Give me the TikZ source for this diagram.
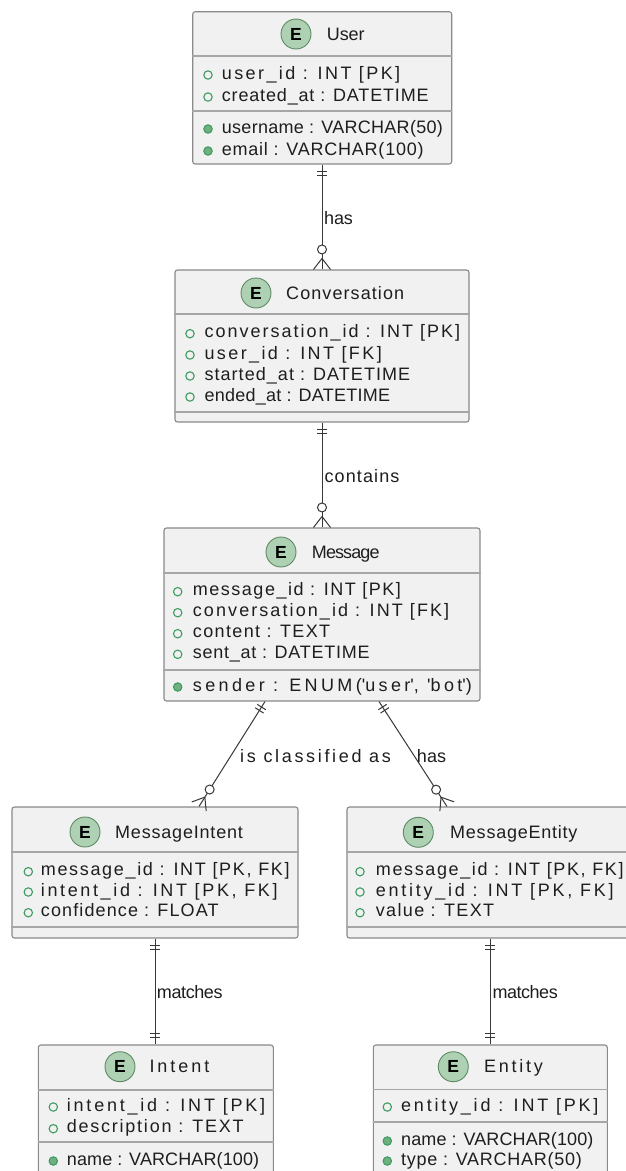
\documentclass[tikz,border=0pt]{standalone}
\usepackage{fontspec}
\usepackage{graphicx}
\setmainfont{Liberation Sans}
\usetikzlibrary{calc,fit}
\definecolor{boxfill}{HTML}{F1F1F1}
\definecolor{boxline}{HTML}{8A8A8A}
\definecolor{sepline}{HTML}{A6A6A6}
\definecolor{spotfill}{HTML}{ADD1B2}
\definecolor{spotline}{HTML}{5E8A66}
\definecolor{bulline}{HTML}{3E9B62}
\definecolor{bulfill}{HTML}{6FB07E}
\definecolor{relline}{HTML}{383838}
\definecolor{txt}{HTML}{1E1E1E}

\newsavebox\trkbox
\newdimen\trkA
\newdimen\trkB
\newcommand\trk[2]{%
  \sbox\trkbox{#2}\trkA=\wd\trkbox
  \sbox\trkbox{\addfontfeature{LetterSpace=10}#2}\trkB=\wd\trkbox
  \pgfmathsetmacro\trkls{round(100*(10*(#1-\trkA)/(\trkB-\trkA)))/100}%
  \edef\trktmp{\noexpand\addfontfeature{LetterSpace=\trkls}}%
  {\trktmp #2}}

\tikzset{
  ebox/.style={draw=boxline, fill=boxfill, line width=1.1pt, rounded corners=2.5pt, inner sep=0pt},
  sepl/.style={draw=sepline, line width=1.6pt},
  spot/.style={circle, draw=spotline, fill=spotfill, line width=0.9pt, minimum size=30pt, inner sep=0pt,
    font=\bfseries\fontsize{17.5}{17.5}\selectfont, text=black},
  ttl/.style={anchor=base west, inner sep=0pt, font=\fontsize{18}{21}\selectfont, text=txt},
  attr/.style={anchor=base west, inner sep=0pt, font=\fontsize{18}{21}\selectfont, text=txt},
  lbl/.style={anchor=base west, inner sep=0pt, font=\fontsize{18}{21}\selectfont, text=txt},
  bulo/.style={circle, draw=bulline, fill=boxfill, line width=1.1pt, minimum size=8.4pt, inner sep=0pt},
  bulf/.style={circle, draw=bulline, fill=bulfill, line width=1.1pt, minimum size=8.4pt, inner sep=0pt},
  rel/.style={draw=relline, line width=1pt},
}

\newcommand\erow[7]{%
  \node[#2] (#1b) at (#3,#5+1) {};
  \node[attr] (#1) at (#4,#5+5) {\trk{#6}{#7}};}

\newcommand\relbars[2]{%
  \draw[rel] ($(#1)!6.5pt!(#2)!5pt!90:(#2)$) -- ($(#1)!6.5pt!(#2)!5pt!-90:(#2)$);
  \draw[rel] ($(#1)!10.5pt!(#2)!5pt!90:(#2)$) -- ($(#1)!10.5pt!(#2)!5pt!-90:(#2)$);}

\newcommand\relmany[2]{%
  \draw[rel] ($(#2)!11pt!(#1)$) -- ($(#2)!8.5pt!90:(#1)$);
  \draw[rel] ($(#2)!11pt!(#1)$) -- ($(#2)!8.5pt!-90:(#1)$);
  \draw[rel, fill=white] ($(#2)!20pt!(#1)$) circle[radius=4.5pt];}

\begin{document}
\begin{tikzpicture}[x=1pt, y=-1pt]
\useasboundingbox (0,0) rectangle (626,1171);
\fill[white] (0,0) rectangle (626,1171);
\clip (0,0) rectangle (626,1171);

% ---------- boxes ----------
\node[ebox, fit={(192.7,11.7) (451.7,164)}] (user) {};
\node[ebox, fit={(175,270) (469,422)}] (conv) {};
\node[ebox, fit={(164,528) (480,701)}] (msg) {};
\node[ebox, fit={(12,807) (298,938)}] (mint) {};
\node[ebox, fit={(347,807) (633,938)}] (ment) {};
\node[ebox, fit={(38.3,1045) (273.3,1190)}] (intent) {};
\node[ebox, fit={(373.3,1045) (607.3,1190)}] (entity) {};

% separators
\draw[sepl] (user.west |- 0,56) -- (user.east |- 0,56);
\draw[sepl] (user.west |- 0,111) -- (user.east |- 0,111);
\draw[sepl] (conv.west |- 0,314) -- (conv.east |- 0,314);
\draw[sepl] (conv.west |- 0,412) -- (conv.east |- 0,412);
\draw[sepl] (msg.west |- 0,573) -- (msg.east |- 0,573);
\draw[sepl] (msg.west |- 0,670) -- (msg.east |- 0,670);
\draw[sepl] (mint.west |- 0,852) -- (mint.east |- 0,852);
\draw[sepl] (mint.west |- 0,927) -- (mint.east |- 0,927);
\draw[sepl] (ment.west |- 0,852) -- (ment.east |- 0,852);
\draw[sepl] (ment.west |- 0,927) -- (ment.east |- 0,927);
\draw[sepl] (intent.west |- 0,1090) -- (intent.east |- 0,1090);
\draw[sepl] (intent.west |- 0,1141.7) -- (intent.east |- 0,1141.7);
\draw[sepl] (entity.west |- 0,1089.3) -- (entity.east |- 0,1089.3);
\draw[sepl] (entity.west |- 0,1121.7) -- (entity.east |- 0,1121.7);

% ---------- headers ----------
\node[spot] (userE) at (296,34) {E};
\node[ttl] (userT) at (326.7,40.5) {\trk{37.7}{User}};
\node[spot] (convE) at (256,293) {E};
\node[ttl] (convT) at (286,299.7) {\trk{118}{Conversation}};
\node[spot] (msgE) at (281,552) {E};
\node[ttl] (msgT) at (311.7,558.2) {\trk{67.7}{Message}};
\node[spot] (mintE) at (85,832) {E};
\node[ttl] (mintT) at (115,838.2) {\trk{127.7}{MessageIntent}};
\node[spot] (mentE) at (418.3,832.3) {E};
\node[ttl] (mentT) at (450,838.5) {\trk{127.3}{MessageEntity}};
\node[spot] (intentE) at (120,1066.7) {E};
\node[ttl] (intentT) at (149.3,1072.9) {\trk{60}{Intent}};
\node[spot] (entityE) at (453.3,1066.7) {E};
\node[ttl] (entityT) at (484,1072.9) {\trk{58.7}{Entity}};

% ---------- attributes ----------
\erow{u1}{bulo}{208}{221.7}{74}{178.3}{user\_id : INT [PK]}
\erow{u2}{bulo}{208}{221.7}{96}{206.7}{created\_at : DATETIME}
\erow{u3}{bulf}{208}{221.7}{128}{221}{username : VARCHAR(50)}
\erow{u4}{bulf}{208}{221.7}{150}{201.7}{email : VARCHAR(100)}

\erow{c1}{bulo}{190}{204.3}{332.7}{255.7}{conversation\_id : INT [PK]}
\erow{c2}{bulo}{190}{204.3}{354}{177.3}{user\_id : INT [FK]}
\erow{c3}{bulo}{190}{204.3}{375}{205.7}{started\_at : DATETIME}
\erow{c4}{bulo}{190}{204.3}{396}{185.7}{ended\_at : DATETIME}

\erow{m1}{bulo}{177.7}{192.7}{590.7}{208}{message\_id : INT [PK]}
\erow{m2}{bulo}{177.7}{192.7}{611.7}{256.3}{conversation\_id : INT [FK]}
\erow{m3}{bulo}{177.7}{192.7}{632.7}{137.3}{content : TEXT}
\erow{m4}{bulo}{177.7}{192.7}{653.3}{176.7}{sent\_at : DATETIME}
\erow{m5}{bulf}{177.7}{192.7}{686}{279}{sender : ENUM(\textquotesingle user\textquotesingle, \textquotesingle bot\textquotesingle)}

\erow{i1}{bulo}{28.3}{40.7}{870.7}{248.7}{message\_id : INT [PK, FK]}
\erow{i2}{bulo}{28.3}{40.7}{891}{236.7}{intent\_id : INT [PK, FK]}
\erow{i3}{bulo}{28.3}{40.7}{911.7}{177.7}{confidence : FLOAT}

\erow{e1}{bulo}{360}{375.7}{870.7}{247.7}{message\_id : INT [PK, FK]}
\erow{e2}{bulo}{360}{375.7}{891}{237.7}{entity\_id : INT [PK, FK]}
\erow{e3}{bulo}{360}{375.7}{911.7}{118.3}{value : TEXT}

\erow{n1}{bulo}{53.3}{66.7}{1106}{198.3}{intent\_id : INT [PK]}
\erow{n2}{bulo}{53.3}{66.7}{1127.7}{176.7}{description : TEXT}
\erow{n3}{bulf}{53.3}{66.7}{1160}{192.3}{name : VARCHAR(100)}

\erow{t1}{bulo}{387.3}{401}{1106}{197.3}{entity\_id : INT [PK]}
\erow{t2}{bulf}{387.3}{401}{1140}{192.3}{name : VARCHAR(100)}
\erow{t3}{bulf}{387.3}{401}{1160}{180.7}{type : VARCHAR(50)}

% ---------- relations ----------
\coordinate (r1a) at (user.south -| 322,0);
\coordinate (r1b) at (conv.north -| 322,0);
\coordinate (r2a) at (conv.south -| 322,0);
\coordinate (r2b) at (msg.north -| 322,0);
\coordinate (r3a) at (msg.south -| 265,0);
\coordinate (r3b) at (mint.north -| 199,0);
\coordinate (r4a) at (msg.south -| 379,0);
\coordinate (r4b) at (ment.north -| 447,0);
\coordinate (r5a) at (mint.south -| 155,0);
\coordinate (r5b) at (intent.north -| 155,0);
\coordinate (r6a) at (ment.south -| 490,0);
\coordinate (r6b) at (entity.north -| 490,0);

\draw[rel] (r1a) -- (r1b);
\relbars{r1a}{r1b}
\relmany{r1a}{r1b}
\node[lbl] (l1) at (324,224.5) {\trk{28.7}{has}};

\draw[rel] (r2a) -- (r2b);
\relbars{r2a}{r2b}
\relmany{r2a}{r2b}
\node[lbl] (l2) at (324.3,482.8) {\trk{75}{contains}};

\draw[rel] (r3a) -- (r3b);
\relbars{r3a}{r3b}
\relmany{r3a}{r3b}
\node[lbl] (l3) at (240,762.5) {\trk{150.7}{is classified as}};

\draw[rel] (r4a) -- (r4b);
\relbars{r4a}{r4b}
\relmany{r4a}{r4b}
\node[lbl] (l4) at (416.7,762.5) {\trk{29.3}{has}};

\draw[rel] (r5a) -- (r5b);
\relbars{r5a}{r5b}
\relbars{r5b}{r5a}
\node[lbl] (l5) at (156.7,998.2) {\trk{65.7}{matches}};

\draw[rel] (r6a) -- (r6b);
\relbars{r6a}{r6b}
\relbars{r6b}{r6a}
\node[lbl] (l6) at (492.3,998.2) {\trk{65.3}{matches}};
\end{tikzpicture}
\end{document}
